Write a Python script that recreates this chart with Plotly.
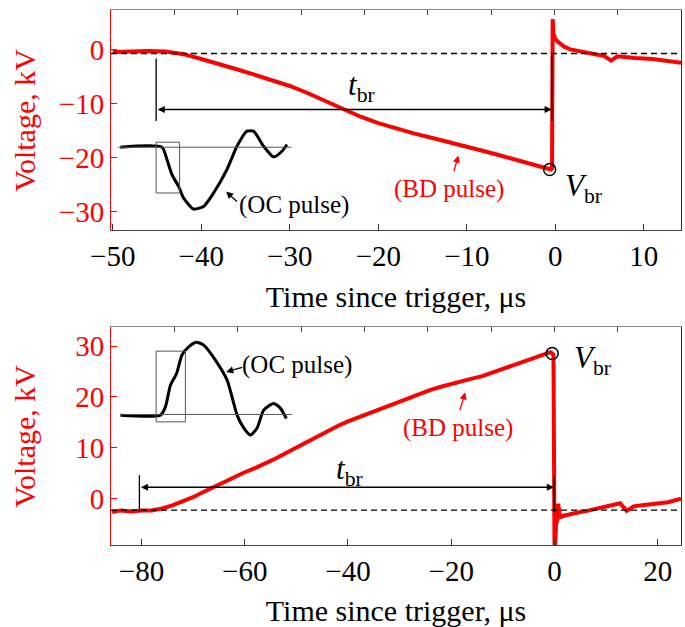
import plotly.graph_objects as go

# ---- data ----
# top panel: negative breakdown pulse (kV vs us)
t_top = [-50, -48, -46, -44, -42, -40, -38, -36, -34, -32, -30, -28, -26, -24, -22, -20,
         -18, -16, -14, -12, -10, -8, -6, -4, -2, -0.8, -0.5, -0.37, -0.35, -0.3, -0.2, 0,
         0.3, 0.6, 1, 1.7, 2.5, 3.6, 4.5, 5.5, 6.3, 7.0, 7.5, 9, 11, 12.5, 14.2]
v_top = [-0.4, -0.3, -0.2, -0.3, -0.8, -1.7, -2.6, -3.6, -4.6, -5.6, -6.7, -8.0, -9.5, -11.0, -12.4, -13.6,
         -14.6, -15.5, -16.3, -17.1, -17.9, -18.8, -19.7, -20.6, -21.4, -22.0, -22.2, -22.0, 0.0, 5.7, 3.0, 2.0,
         1.5, 1.0, 0.6, 0.1, -0.2, -0.5, -0.8, -1.1, -2.0, -1.2, -1.3, -1.5, -1.7, -2.0, -2.4]

# bottom panel: positive breakdown pulse
t_bot = [-85.7, -84, -82, -80, -78, -76, -74, -72, -70, -68, -66, -64, -62, -60, -58, -56, -54,
         -52, -50, -48, -46, -44, -42, -40, -38, -36, -34, -32, -30, -28, -26, -24, -22, -20,
         -18, -16, -14, -12, -10, -8, -6, -4, -2, -0.8, -0.45, -0.2, 0.0, 0.1, 0.3, 0.5, 0.7,
         1.1, 2.0, 3.0, 4.5, 6.3, 8.0, 9.5, 11.0, 12.7, 14.0, 15.3, 17.0, 19.2, 22.0, 24.5]
v_bot = [-2.6, -2.3, -2.5, -2.3, -2.3, -1.9, -1.3, -0.6, 0.3, 1.3, 2.3, 3.3, 4.3, 5.2, 6.0, 6.9, 7.9,
         9.0, 10.1, 11.2, 12.3, 13.3, 14.3, 15.2, 16.0, 16.8, 17.5, 18.3, 19.1, 19.9, 20.7, 21.4, 22.0, 22.6,
         23.1, 23.6, 24.1, 24.8, 25.5, 26.3, 27.1, 27.8, 28.4, 28.8, 28.55, 28.3, -10.0, -10.0, -5.0, -4.2, -1.0,
         -3.6, -3.3, -3.0, -2.7, -2.4, -2.0, -1.6, -1.3, -0.9, -2.4, -1.5, -1.3, -1.1, -0.7, 0.0]

# breakdown points (V_br)
vbr_t = [-0.64, -0.45]
vbr_v = [-22.2, 28.55]

# OC pulse sketches drawn inside each panel (in panel units)
oc_top_t = [-49.15, -44.44, -43.88, -43.31, -42.56, -42.0, -40.87, -39.74, -38.61, -37.1,
            -35.97, -34.84, -34.09, -32.96, -31.83, -30.88, -30.32]
oc_top_v = [-18.06, -18.06, -20.35, -23.15, -25.33, -27.49, -29.53, -29.05, -26.55, -22.2,
            -17.88, -15.08, -15.08, -17.88, -19.85, -18.81, -17.56]
oc_bot_t = [-84.07, -76.33, -75.36, -74.39, -73.2, -72.13, -70.85, -69.36, -67.94, -65.68,
            -63.41, -61.48, -60.2, -58.9, -57.6, -56.33, -54.4, -53.1, -51.94]
oc_bot_v = [16.42, 16.42, 18.05, 22.3, 24.6, 28.3, 29.85, 30.74, 30.19, 27.24,
            23.3, 16.42, 13.9, 12.5, 13.9, 17.4, 18.72, 17.8, 15.77]

# baselines, t_br limits
base_top, base_bot = -0.67, -2.26
tbr_top = [-45.1, -0.4]
tbr_bot = [-80.4, -0.1]

RED = "#ff0000"
FONT = "Liberation Serif, Times New Roman, serif"

fig = go.Figure()

fig.add_trace(go.Scatter(x=t_top, y=v_top, mode="lines", line=dict(color=RED, width=4),
                         xaxis="x", yaxis="y", showlegend=False))
fig.add_trace(go.Scatter(x=t_bot, y=v_bot, mode="lines", line=dict(color=RED, width=4),
                         xaxis="x2", yaxis="y2", showlegend=False))
fig.add_trace(go.Scatter(x=oc_top_t, y=oc_top_v, mode="lines",
                         line=dict(color="black", width=3, shape="spline", smoothing=0.6),
                         xaxis="x", yaxis="y", showlegend=False))
fig.add_trace(go.Scatter(x=oc_bot_t, y=oc_bot_v, mode="lines",
                         line=dict(color="black", width=3, shape="spline", smoothing=0.6),
                         xaxis="x2", yaxis="y2", showlegend=False))
fig.add_trace(go.Scatter(x=vbr_t[:1], y=vbr_v[:1], mode="markers", xaxis="x", yaxis="y", showlegend=False,
                         marker=dict(symbol="circle-open", size=12, color="black", line=dict(width=1.5))))
fig.add_trace(go.Scatter(x=vbr_t[1:], y=vbr_v[1:], mode="markers", xaxis="x2", yaxis="y2", showlegend=False,
                         marker=dict(symbol="circle-open", size=12, color="black", line=dict(width=1.5))))
# empty traces so the frame overlay axes are drawn
fig.add_trace(go.Scatter(x=[None], y=[None], xaxis="x3", yaxis="y3", showlegend=False, hoverinfo="skip"))
fig.add_trace(go.Scatter(x=[None], y=[None], xaxis="x4", yaxis="y4", showlegend=False, hoverinfo="skip"))

shapes = []
for xr, yr, base, tbr, lo, hi in [("x", "y", base_top, tbr_top, (-1.6, -13.2), (-1.1, -13.2)),
                                   ("x2", "y2", base_bot, tbr_bot, (4.6, -2.6), (4.3, -2.6))]:
    shapes.append(dict(type="line", xref=xr + " domain", yref=yr, x0=0, x1=1, y0=base, y1=base,
                       line=dict(color="black", width=1.3, dash="6px,4px")))
    shapes.append(dict(type="line", xref=xr, yref=yr, x0=tbr[0], x1=tbr[0], y0=lo[0], y1=lo[1],
                       line=dict(color="black", width=1.3)))
    shapes.append(dict(type="line", xref=xr, yref=yr, x0=tbr[1], x1=tbr[1], y0=hi[0], y1=hi[1],
                       line=dict(color="black", width=1.3)))
# inset baselines and boxes
shapes.append(dict(type="line", xref="x", yref="y", x0=-49.4, x1=-29.8, y0=-18.06, y1=-18.06,
                   line=dict(color="#555555", width=1)))
shapes.append(dict(type="rect", xref="x", yref="y", x0=-45.1, x1=-42.45, y0=-17.13, y1=-26.55,
                   line=dict(color="#555555", width=1)))
shapes.append(dict(type="line", xref="x2", yref="y2", x0=-84.1, x1=-50.8, y0=16.56, y1=16.56,
                   line=dict(color="#555555", width=1)))
shapes.append(dict(type="rect", xref="x2", yref="y2", x0=-77.16, x1=-71.49, y0=29.0, y1=15.1,
                   line=dict(color="#555555", width=1)))

ann = []
def arrow(xr, yr, tail, head, color, both=False):
    ann.append(dict(xref=xr, yref=yr, axref=xr, ayref=yr, x=head[0], y=head[1], ax=tail[0], ay=tail[1],
                    text="", showarrow=True, arrowhead=2, arrowsize=1.1, arrowwidth=1.3, arrowcolor=color,
                    arrowside="end+start" if both else "end"))

def label(xr, yr, x, y, text, size, color="black", xanchor="center"):
    ann.append(dict(xref=xr, yref=yr, x=x, y=y, text=text, showarrow=False, xanchor=xanchor,
                    yanchor="middle", font=dict(family=FONT, size=size, color=color)))

arrow("x", "y", (tbr_top[0], -11.06), (tbr_top[1], -11.06), "black", both=True)
arrow("x2", "y2", (tbr_bot[0], 2.25), (tbr_bot[1], 2.25), "black", both=True)
arrow("x", "y", (-11.5, -22.8), (-10.96, -19.6), RED)
arrow("x2", "y2", (-18.4, 17.1), (-17.3, 20.9), RED)
arrow("x", "y", (-35.8, -28.4), (-37.2, -26.3), "black")
arrow("x2", "y2", (-60.2, 25.9), (-63.6, 24.9), "black")

label("x", "y", -23.7, -6.8, "<i>t</i><sub>br</sub>", 31, xanchor="left")
label("x2", "y2", -42.8, 5.4, "<i>t</i><sub>br</sub>", 31, xanchor="left")
label("x", "y", 0.9, -25.6, "<i>V</i><sub>br</sub>", 31, xanchor="left")
label("x2", "y2", 3.4, 27.2, "<i>V</i><sub>br</sub>", 31, xanchor="left")
label("x", "y", -12.0, -25.9, "(BD pulse)", 25, RED)
label("x2", "y2", -18.6, 13.9, "(BD pulse)", 25, RED)
label("x", "y", -29.5, -28.7, "(OC pulse)", 25)
label("x2", "y2", -49.8, 26.3, "(OC pulse)", 25)

# y-axis titles placed as rotated annotations
for yr in ["y", "y2"]:
    ann.append(dict(xref="paper", yref=yr + " domain", x=-0.151, y=0.5, text="Voltage, kV",
                    textangle=-90, showarrow=False, xanchor="center", yanchor="middle",
                    font=dict(family=FONT, size=30, color=RED)))

tickfont = dict(family=FONT, size=29)
xcommon = dict(ticks="inside", ticklen=6, tickcolor="#333333", showline=True, linecolor="#444444",
               linewidth=1, showgrid=False, zeroline=False, automargin=False,
               tickfont=dict(tickfont, color="black"),
               title=dict(text="Time since trigger, μs", font=dict(family=FONT, size=30, color="black")))
ycommon = dict(ticks="inside", ticklen=6, tickcolor=RED, showline=True, linecolor=RED, linewidth=1,
               showgrid=False, zeroline=False, automargin=False, tickfont=dict(tickfont, color=RED))
topframe = dict(side="top", range=[0, 9], dtick=1, ticks="inside", ticklen=5, tickcolor="#444444",
                showline=True, linecolor="#888888", showticklabels=False, showgrid=False, zeroline=False)
rightframe = dict(side="right", showline=True, linecolor="#333333", ticks="", showticklabels=False,
                  showgrid=False, zeroline=False, range=[0, 1])

fig.update_layout(
    width=685, height=627,
    margin=dict(l=111, r=4, t=10, b=82),
    paper_bgcolor="white", plot_bgcolor="white",
    font=dict(family=FONT),
    xaxis=dict(xcommon, domain=[0, 1], anchor="y", range=[-50.2, 14.2], dtick=10),
    yaxis=dict(ycommon, domain=[0.589, 1], anchor="x", range=[-33.4, 7.4], dtick=10),
    xaxis2=dict(xcommon, domain=[0, 1], anchor="y2", range=[-85.9, 24.5], dtick=20),
    yaxis2=dict(ycommon, domain=[0, 0.408], anchor="x2", range=[-9.1, 33.8], dtick=10),
    xaxis3=dict(topframe, overlaying="x", anchor="y"),
    yaxis3=dict(rightframe, overlaying="y", anchor="x"),
    xaxis4=dict(topframe, overlaying="x2", anchor="y2"),
    yaxis4=dict(rightframe, overlaying="y2", anchor="x2"),
    shapes=shapes,
    annotations=ann,
    showlegend=False,
)

# drop the browser's default page margin so the figure sits at the window origin
fig.write_html("out.html", config={"displayModeBar": False},
               post_script="document.body.style.margin='0';")
